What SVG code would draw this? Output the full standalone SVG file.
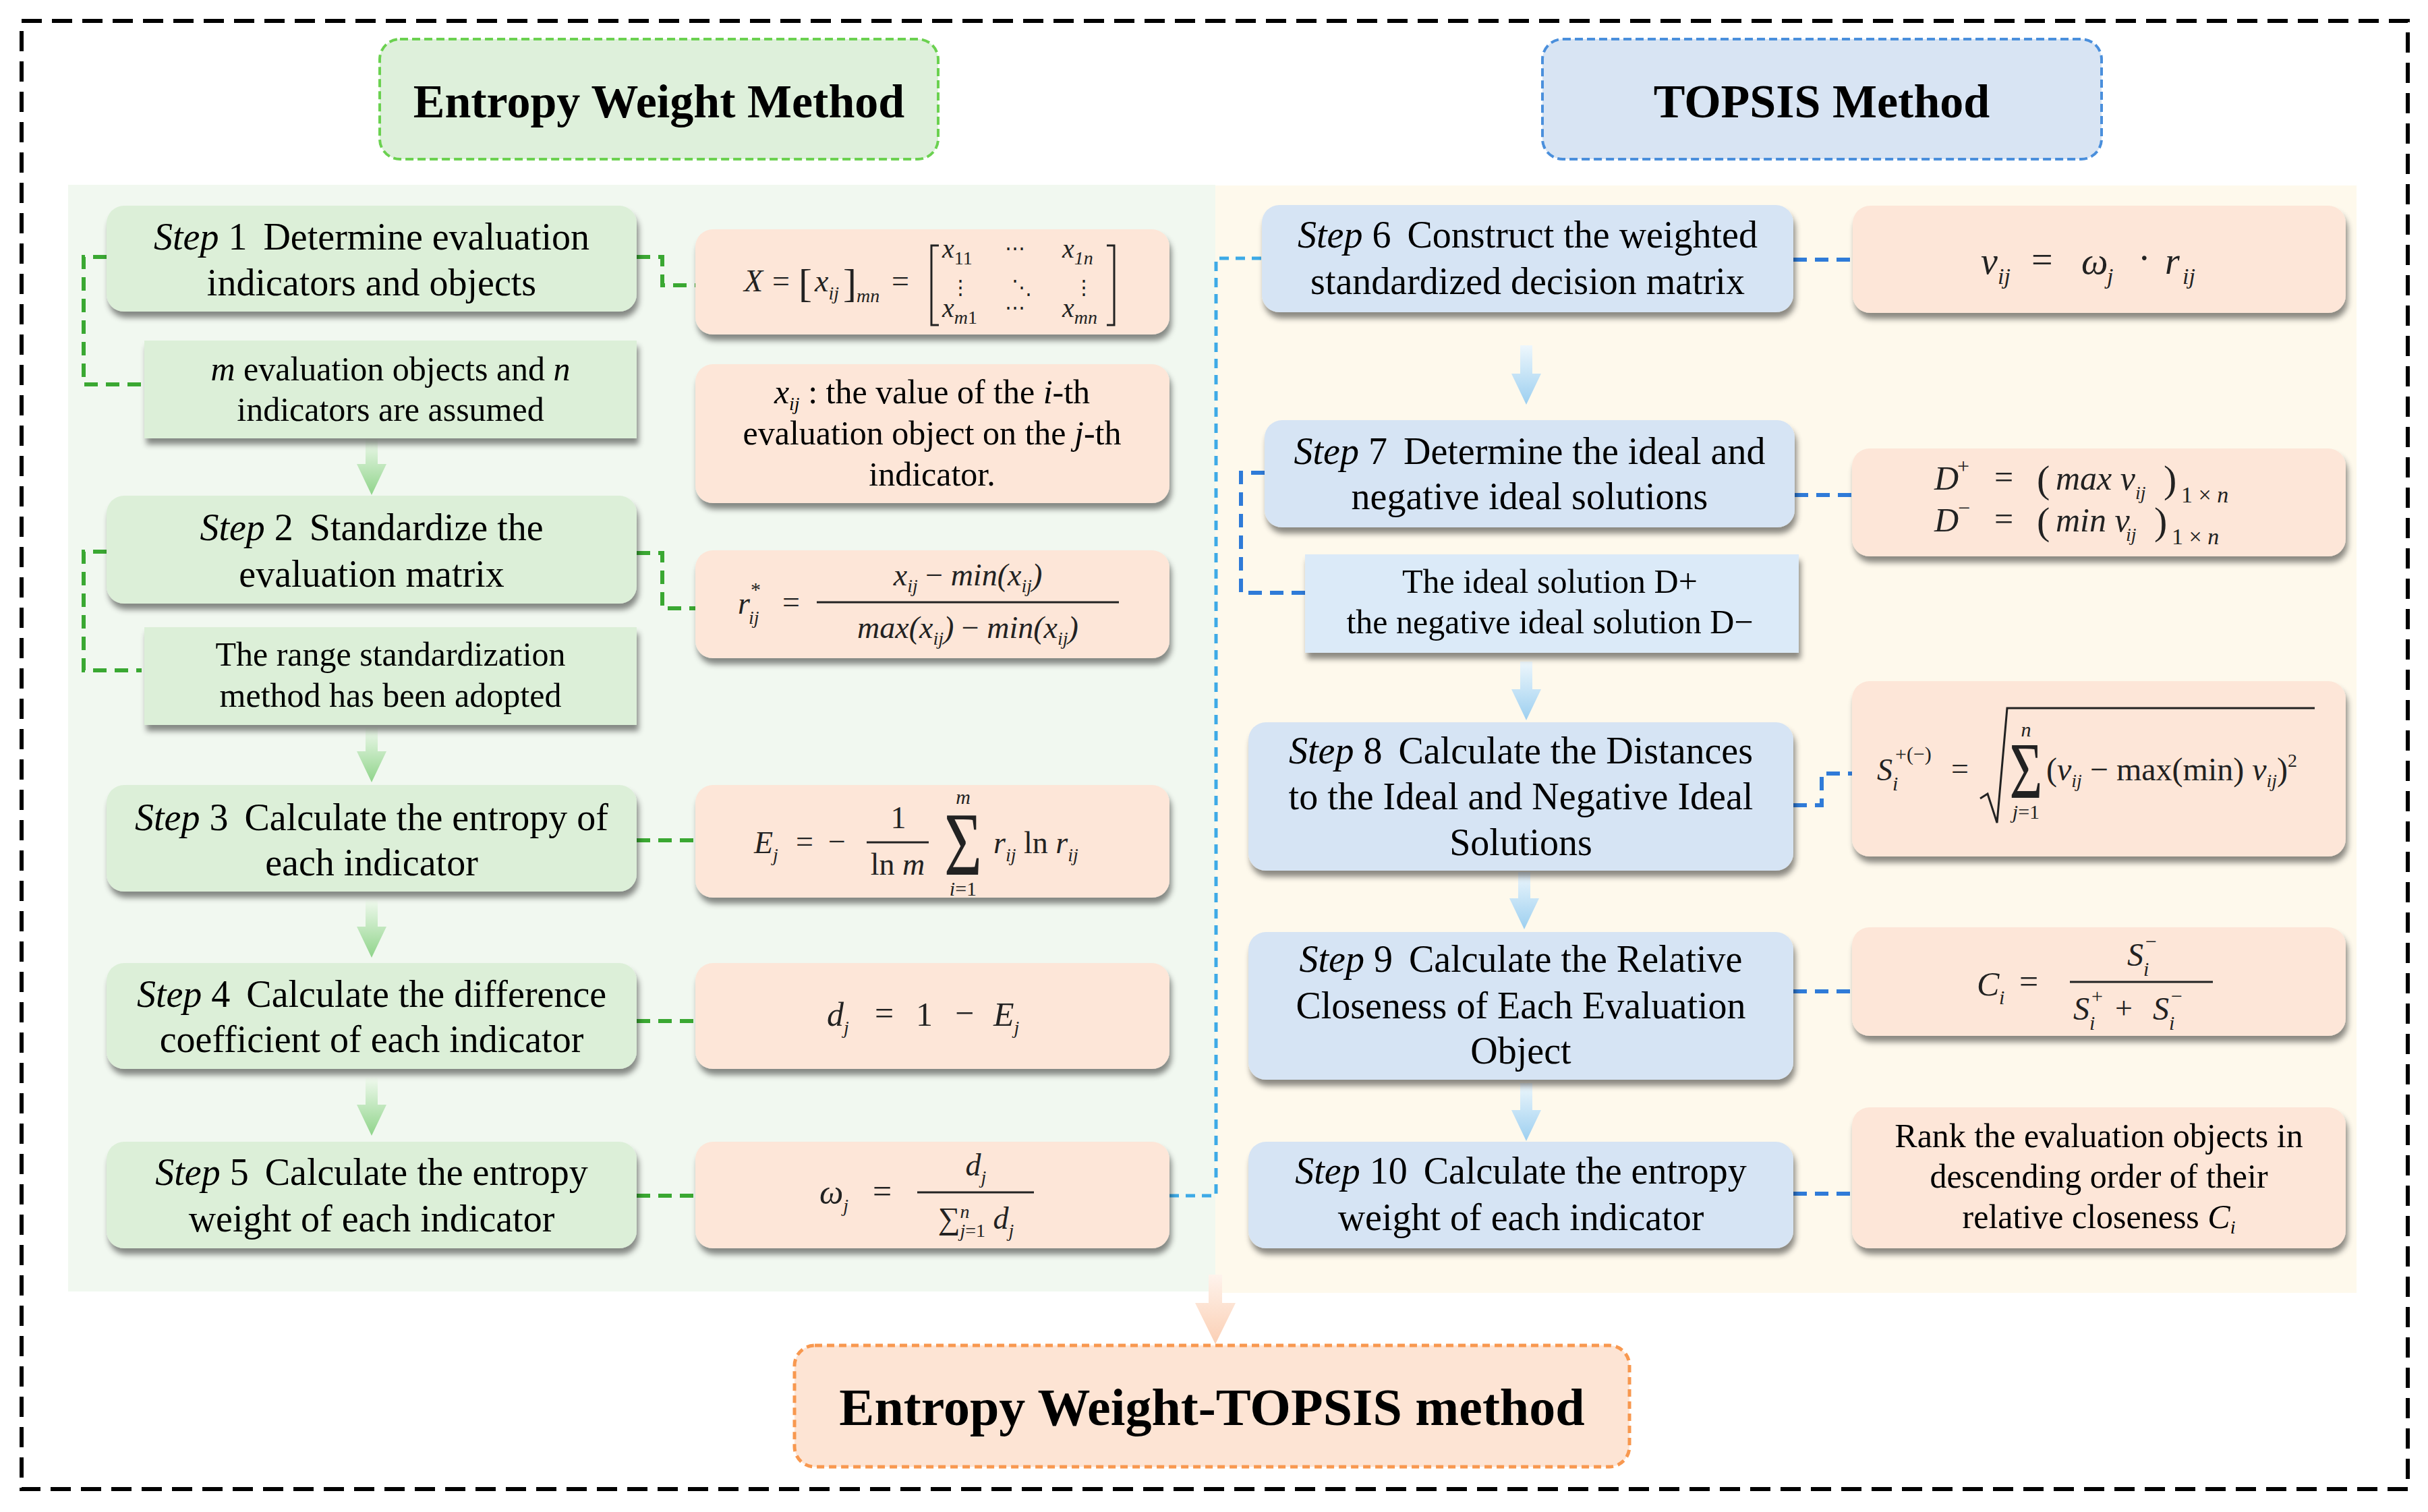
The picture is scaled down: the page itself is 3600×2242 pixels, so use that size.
<svg xmlns="http://www.w3.org/2000/svg" width="3600" height="2242" viewBox="0 0 3600 2242">
<defs>
<style>
.t{font-family:"Liberation Serif","Times New Roman",serif;fill:#000}
.st{font-size:56px;text-anchor:middle}
.nt{font-size:50px;text-anchor:middle}
.ttl{font-size:70px;font-weight:bold;text-anchor:middle}
.it{font-style:italic}
.m{font-family:"Liberation Serif","Times New Roman",serif;font-style:italic;font-size:46px;fill:#222}
.u{font-style:normal}
.s{font-size:28px}
.dots{font-family:"DejaVu Serif",serif;font-style:normal;font-size:30px;fill:#222;text-anchor:middle}
.gbox{fill:#dcefd8;filter:url(#sh)}
.bbox{fill:#d6e4f4;filter:url(#sh)}
.bsub{fill:#dbeaf8;filter:url(#sh)}
.pbox{fill:#fde6d8;filter:url(#sh)}
.cg{fill:none;stroke:#3aa832;stroke-width:6;stroke-dasharray:20 12}
.cb{fill:none;stroke:#2f7bd8;stroke-width:6;stroke-dasharray:20 12}
.cl{fill:none;stroke:#3daae6;stroke-width:5;stroke-dasharray:14 10}
.ln{stroke:#222;stroke-width:3;fill:none}
</style>
<filter id="sh" x="-5%" y="-10%" width="110%" height="130%">
<feDropShadow dx="3" dy="9" stdDeviation="4" flood-color="#000" flood-opacity="0.45"/>
</filter>
<linearGradient id="gg" x1="0" y1="0" x2="0" y2="1">
<stop offset="0" stop-color="#f0f9ee"/><stop offset="1" stop-color="#8fd48a"/>
</linearGradient>
<linearGradient id="bg" x1="0" y1="0" x2="0" y2="1">
<stop offset="0" stop-color="#eef7fc"/><stop offset="1" stop-color="#9ccff0"/>
</linearGradient>
<linearGradient id="pg" x1="0" y1="0" x2="0" y2="1">
<stop offset="0" stop-color="#fef3ec"/><stop offset="1" stop-color="#fbcfb4"/>
</linearGradient>
</defs>
<rect width="3600" height="2242" fill="#fff"/>
<rect x="32" y="31" width="3538" height="2177" fill="none" stroke="#000" stroke-width="6" stroke-dasharray="30 15"/>
<rect x="101" y="274" width="1701" height="1641" fill="#f1f8f0"/>
<rect x="1802" y="275" width="1692" height="1642" fill="#fef9ec"/>

<g id="title-ewm">
<rect x="563" y="58" width="828" height="178" rx="30" fill="#def0db" stroke="#6bd150" stroke-width="4" stroke-dasharray="12 6"/>
<text class="t ttl" x="977" y="174">Entropy Weight Method</text>
</g>
<g id="title-topsis">
<rect x="2287" y="58" width="829" height="178" rx="30" fill="#d8e4f3" stroke="#4a8fdc" stroke-width="4" stroke-dasharray="12 6"/>
<text class="t ttl" x="2701" y="174">TOPSIS Method</text>
</g>
<g id="title-final">
<rect x="1178" y="1995" width="1238" height="180" rx="30" fill="#fde4d4" stroke="#f8984f" stroke-width="5" stroke-dasharray="11 7"/>
<text class="t ttl" x="1797" y="2113" style="font-size:78px">Entropy Weight-TOPSIS method</text>
</g>

<g id="connectors">
<path class="cg" d="M158,381 H124 V570 H210"/>
<path class="cg" d="M944,381 H982 V423 H1031"/>
<path class="cg" d="M158,818 H124 V994 H210"/>
<path class="cg" d="M944,820 H982 V902 H1031"/>
<path class="cg" d="M944,1246 H1031"/>
<path class="cg" d="M944,1514 H1031"/>
<path class="cg" d="M944,1773 H1031"/>
<path class="cl" d="M1734,1773 H1803 V383 H1871"/>
<path class="cb" d="M2659,385 H2747"/>
<path class="cb" d="M1875,701 H1840 V879 H1935"/>
<path class="cb" d="M2661,734 H2746"/>
<path class="cb" d="M2659,1194 H2701 V1147 H2746"/>
<path class="cb" d="M2659,1470 H2746"/>
<path class="cb" d="M2659,1770 H2746"/>
<polygon fill="url(#gg)" points="542,650 560,650 560,688 573,688 551,734 529,688 542,688"/>
<polygon fill="url(#gg)" points="542,1078 560,1078 560,1114 573,1114 551,1160 529,1114 542,1114"/>
<polygon fill="url(#gg)" points="542,1334 560,1334 560,1374 573,1374 551,1420 529,1374 542,1374"/>
<polygon fill="url(#gg)" points="542,1598 560,1598 560,1638 573,1638 551,1684 529,1638 542,1638"/>
<polygon fill="url(#bg)" points="2254,512 2272,512 2272,554 2285,554 2263,600 2241,554 2254,554"/>
<polygon fill="url(#bg)" points="2254,981 2272,981 2272,1022 2285,1022 2263,1068 2241,1022 2254,1022"/>
<polygon fill="url(#bg)" points="2251,1293 2269,1293 2269,1332 2282,1332 2260,1378 2238,1332 2251,1332"/>
<polygon fill="url(#bg)" points="2254,1606 2272,1606 2272,1646 2285,1646 2263,1692 2241,1646 2254,1646"/>
<polygon fill="url(#pg)" points="1792,1890 1812,1890 1812,1932 1832,1932 1802,1993 1772,1932 1792,1932"/>
</g>

<g id="step1">
<rect class="gbox" x="158" y="305" width="786" height="157" rx="26"/>
<text class="t st" x="551" y="370"><tspan class="it">Step</tspan> 1 <tspan dx="10">Determine evaluation</tspan></text>
<text class="t st" x="551" y="438">indicators and objects</text>
</g>
<g id="note1">
<rect class="gbox" x="214" y="505" width="730" height="145"/>
<text class="t nt" x="579" y="564"><tspan class="it">m</tspan> evaluation objects and <tspan class="it">n</tspan></text>
<text class="t nt" x="579" y="624">indicators are assumed</text>
</g>
<g id="step2">
<rect class="gbox" x="158" y="735" width="786" height="160" rx="26"/>
<text class="t st" x="551" y="801"><tspan class="it">Step</tspan> 2 <tspan dx="10">Standardize the</tspan></text>
<text class="t st" x="551" y="870">evaluation matrix</text>
</g>
<g id="note2">
<rect class="gbox" x="214" y="930" width="730" height="145"/>
<text class="t nt" x="579" y="987">The range standardization</text>
<text class="t nt" x="579" y="1048">method has been adopted</text>
</g>
<g id="step3">
<rect class="gbox" x="158" y="1164" width="786" height="158" rx="26"/>
<text class="t st" x="551" y="1231"><tspan class="it">Step</tspan> 3 <tspan dx="10">Calculate the entropy of</tspan></text>
<text class="t st" x="551" y="1298">each indicator</text>
</g>
<g id="step4">
<rect class="gbox" x="158" y="1428" width="786" height="157" rx="26"/>
<text class="t st" x="551" y="1493"><tspan class="it">Step</tspan> 4 <tspan dx="10">Calculate the difference</tspan></text>
<text class="t st" x="551" y="1560">coefficient of each indicator</text>
</g>
<g id="step5">
<rect class="gbox" x="158" y="1693" width="786" height="158" rx="26"/>
<text class="t st" x="551" y="1757"><tspan class="it">Step</tspan> 5 <tspan dx="10">Calculate the entropy</tspan></text>
<text class="t st" x="551" y="1826">weight of each indicator</text>
</g>

<g id="formula1">
<rect class="pbox" x="1031" y="340" width="703" height="156" rx="26"/>
<text class="m" x="1103" y="432">X</text>
<text class="m u" x="1145" y="432">=</text>
<text class="m u" x="1184" y="440" style="font-size:60px">[</text>
<text class="m" x="1208" y="432">x<tspan class="s" dy="12">ij</tspan></text>
<text class="m u" x="1250" y="440" style="font-size:60px">]</text>
<text class="m s" x="1270" y="448">mn</text>
<text class="m u" x="1322" y="432">=</text>
<path class="ln" d="M1392,364 H1381 V482 H1392 M1641,364 H1652 V482 H1641"/>
<text class="m" x="1397" y="382" style="font-size:40px">x<tspan class="u s" dy="10">11</tspan></text>
<text class="dots" x="1505" y="378">⋯</text>
<text class="m" x="1575" y="382" style="font-size:40px">x<tspan class="s" dy="10">1<tspan class="it">n</tspan></tspan></text>
<text class="dots" x="1424" y="436">⋮</text>
<text class="dots" x="1515" y="436">⋱</text>
<text class="dots" x="1607" y="436">⋮</text>
<text class="m" x="1397" y="470" style="font-size:40px">x<tspan class="s" dy="10">m<tspan class="u">1</tspan></tspan></text>
<text class="dots" x="1505" y="466">⋯</text>
<text class="m" x="1575" y="470" style="font-size:40px">x<tspan class="s" dy="10">mn</tspan></text>
</g>
<g id="formula2">
<rect class="pbox" x="1031" y="540" width="703" height="206" rx="26"/>
<text class="t nt" x="1382" y="598"><tspan class="it">x</tspan><tspan class="it" font-size="28" dy="10">ij</tspan><tspan dy="-10"> : the value of the </tspan><tspan class="it">i</tspan>-th</text>
<text class="t nt" x="1382" y="659">evaluation object on the <tspan class="it">j</tspan>-th</text>
<text class="t nt" x="1382" y="720">indicator.</text>
</g>
<g id="formula3">
<rect class="pbox" x="1031" y="816" width="703" height="160" rx="26"/>
<text class="m" x="1094" y="910">r</text>
<text class="m u" x="1113" y="884" style="font-size:30px">*</text>
<text class="m s" x="1110" y="925">ij</text>
<text class="m u" x="1160" y="908">=</text>
<line class="ln" x1="1211" y1="893" x2="1659" y2="893"/>
<text class="m" x="1435" y="868" text-anchor="middle">x<tspan class="s" dy="10">ij</tspan><tspan class="u" dy="-10"> − </tspan>min(x<tspan class="s" dy="10">ij</tspan><tspan dy="-10">)</tspan></text>
<text class="m" x="1435" y="946" text-anchor="middle">max(x<tspan class="s" dy="10">ij</tspan><tspan dy="-10">)</tspan><tspan class="u"> − </tspan>min(x<tspan class="s" dy="10">ij</tspan><tspan dy="-10">)</tspan></text>
</g>
<g id="formula4">
<rect class="pbox" x="1031" y="1164" width="703" height="167" rx="26"/>
<text class="m" x="1118" y="1265">E<tspan class="s" dy="12">j</tspan></text>
<text class="m u" x="1180" y="1263">=</text>
<text class="m u" x="1228" y="1263">−</text>
<text class="m u" x="1332" y="1228" text-anchor="middle">1</text>
<line class="ln" x1="1285" y1="1249" x2="1377" y2="1249"/>
<text class="m u" x="1331" y="1297" text-anchor="middle">ln <tspan class="it">m</tspan></text>
<text class="m u" transform="translate(1428,1297) scale(1,1.4)" text-anchor="middle" style="font-size:96px">Σ</text>
<text class="m" x="1428" y="1192" text-anchor="middle" style="font-size:30px">m</text>
<text class="m" x="1428" y="1328" text-anchor="middle" style="font-size:30px">i<tspan class="u">=1</tspan></text>
<text class="m" x="1473" y="1265">r<tspan class="s" dy="12">ij</tspan><tspan class="u" dy="-12"> ln </tspan>r<tspan class="s" dy="12">ij</tspan></text>
</g>
<g id="formula5">
<rect class="pbox" x="1031" y="1428" width="703" height="157" rx="26"/>
<text class="m" x="1226" y="1521" style="font-size:50px">d<tspan class="s" dy="12">j</tspan></text>
<text class="m u" x="1297" y="1519" style="font-size:50px">=</text>
<text class="m u" x="1358" y="1521" style="font-size:50px">1</text>
<text class="m u" x="1416" y="1519" style="font-size:50px">−</text>
<text class="m" x="1473" y="1521" style="font-size:50px">E<tspan class="s" dy="12">j</tspan></text>
</g>
<g id="formula6">
<rect class="pbox" x="1031" y="1693" width="703" height="158" rx="26"/>
<text class="m" x="1215" y="1785" style="font-size:50px">ω<tspan class="s" dy="12">j</tspan></text>
<text class="m u" x="1294" y="1783" style="font-size:50px">=</text>
<line class="ln" x1="1360" y1="1768" x2="1533" y2="1768"/>
<text class="m" x="1447" y="1743" text-anchor="middle">d<tspan class="s" dy="12">j</tspan></text>
<text class="m" x="1447" y="1822" text-anchor="middle"><tspan class="u">∑</tspan><tspan class="s" dy="-16">n</tspan><tspan class="s" dx="-14" dy="28">j<tspan class="u">=1</tspan></tspan><tspan dy="-12"> d</tspan><tspan class="s" dy="12">j</tspan></text>
</g>

<g id="step6">
<rect class="bbox" x="1871" y="304" width="788" height="159" rx="26"/>
<text class="t st" x="2265" y="367"><tspan class="it">Step</tspan> 6 <tspan dx="10">Construct the weighted</tspan></text>
<text class="t st" x="2265" y="436">standardized decision matrix</text>
</g>
<g id="step7">
<rect class="bbox" x="1875" y="623" width="786" height="159" rx="26"/>
<text class="t st" x="2268" y="688"><tspan class="it">Step</tspan> 7 <tspan dx="10">Determine the ideal and</tspan></text>
<text class="t st" x="2268" y="755">negative ideal solutions</text>
</g>
<g id="note7">
<rect class="bsub" x="1935" y="822" width="732" height="146"/>
<text class="t nt" x="2298" y="879">The ideal solution D+</text>
<text class="t nt" x="2298" y="939">the negative ideal solution D−</text>
</g>
<g id="step8">
<rect class="bbox" x="1851" y="1071" width="808" height="220" rx="26"/>
<text class="t st" x="2255" y="1132"><tspan class="it">Step</tspan> 8 <tspan dx="10">Calculate the Distances</tspan></text>
<text class="t st" x="2255" y="1200">to the Ideal and Negative Ideal</text>
<text class="t st" x="2255" y="1268">Solutions</text>
</g>
<g id="step9">
<rect class="bbox" x="1851" y="1382" width="808" height="219" rx="26"/>
<text class="t st" x="2255" y="1441"><tspan class="it">Step</tspan> 9 <tspan dx="10">Calculate the Relative</tspan></text>
<text class="t st" x="2255" y="1510">Closeness of Each Evaluation</text>
<text class="t st" x="2255" y="1577">Object</text>
</g>
<g id="step10">
<rect class="bbox" x="1851" y="1693" width="808" height="158" rx="26"/>
<text class="t st" x="2255" y="1755"><tspan class="it">Step</tspan> 10 <tspan dx="10">Calculate the entropy</tspan></text>
<text class="t st" x="2255" y="1824">weight of each indicator</text>
</g>

<g id="formula7">
<rect class="pbox" x="2747" y="305" width="731" height="159" rx="26"/>
<text class="m" x="2937" y="406" style="font-size:56px">v</text>
<text class="m" x="2962" y="421" style="font-size:34px">ij</text>
<text class="m u" x="3012" y="404" style="font-size:56px">=</text>
<text class="m" x="3086" y="406" style="font-size:56px">ω</text>
<text class="m" x="3124" y="421" style="font-size:34px">j</text>
<text class="m u" x="3170" y="402" style="font-size:56px">·</text>
<text class="m" x="3210" y="406" style="font-size:56px">r</text>
<text class="m" x="3236" y="421" style="font-size:34px">ij</text>
</g>
<g id="formula8">
<rect class="pbox" x="2746" y="665" width="732" height="160" rx="26"/>
<text class="m" x="2868" y="726" style="font-size:50px">D</text>
<text class="m u" x="2902" y="702" style="font-size:32px">+</text>
<text class="m u" x="2957" y="724" style="font-size:50px">=</text>
<text class="m u" x="3020" y="730" style="font-size:58px">(</text>
<text class="m" x="3048" y="726" style="font-size:50px">max v</text>
<text class="m s" x="3166" y="740">ij</text>
<text class="m u" x="3208" y="730" style="font-size:58px">)</text>
<text class="m u" x="3234" y="745" style="font-size:34px">1 × <tspan class="it">n</tspan></text>
<text class="m" x="2868" y="788" style="font-size:50px">D</text>
<text class="m u" x="2903" y="764" style="font-size:32px">−</text>
<text class="m u" x="2957" y="786" style="font-size:50px">=</text>
<text class="m u" x="3020" y="792" style="font-size:58px">(</text>
<text class="m" x="3048" y="788" style="font-size:50px">min v</text>
<text class="m s" x="3152" y="802">ij</text>
<text class="m u" x="3194" y="792" style="font-size:58px">)</text>
<text class="m u" x="3220" y="807" style="font-size:34px">1 × <tspan class="it">n</tspan></text>
</g>
<g id="formula9">
<rect class="pbox" x="2746" y="1010" width="732" height="260" rx="26"/>
<text class="m" x="2783" y="1157">S</text>
<text class="m u" x="2810" y="1128" style="font-size:30px">+(−)</text>
<text class="m" x="2806" y="1172" style="font-size:30px">i</text>
<text class="m u" x="2893" y="1155">=</text>
<path class="ln" d="M2936,1184 L2947,1177 L2961,1220 L2976,1050 H3432"/>
<text class="m u" transform="translate(3004,1183) scale(1,1.4)" text-anchor="middle" style="font-size:84px">Σ</text>
<text class="m" x="3004" y="1092" text-anchor="middle" style="font-size:30px">n</text>
<text class="m" x="3004" y="1214" text-anchor="middle" style="font-size:30px">j<tspan class="u">=1</tspan></text>
<text class="m" x="3034" y="1157" style="font-size:48px"><tspan class="u">(</tspan>v<tspan class="s" dy="10">ij</tspan><tspan class="u" dy="-10"> − max(min) </tspan>v<tspan class="s" dy="10">ij</tspan><tspan class="u" dy="-10">)</tspan><tspan class="u s" dy="-20">2</tspan></text>
</g>
<g id="formula10">
<rect class="pbox" x="2746" y="1375" width="732" height="161" rx="26"/>
<text class="m" x="2931" y="1476" style="font-size:50px">C</text>
<text class="m" x="2964" y="1489" style="font-size:30px">i</text>
<text class="m u" x="2994" y="1472" style="font-size:50px">=</text>
<line class="ln" x1="3069" y1="1456" x2="3281" y2="1456"/>
<text class="m" x="3154" y="1432" style="font-size:48px">S</text>
<text class="m u" x="3181" y="1406" style="font-size:30px">−</text>
<text class="m" x="3178" y="1447" style="font-size:30px">i</text>
<text class="m" x="3074" y="1512" style="font-size:48px">S</text>
<text class="m u" x="3101" y="1487" style="font-size:30px">+</text>
<text class="m" x="3098" y="1527" style="font-size:30px">i</text>
<text class="m u" x="3136" y="1510" style="font-size:46px">+</text>
<text class="m" x="3192" y="1512" style="font-size:48px">S</text>
<text class="m u" x="3219" y="1487" style="font-size:30px">−</text>
<text class="m" x="3216" y="1527" style="font-size:30px">i</text>
</g>
<g id="formula11">
<rect class="pbox" x="2746" y="1642" width="732" height="209" rx="26"/>
<text class="t nt" x="3112" y="1701">Rank the evaluation objects in</text>
<text class="t nt" x="3112" y="1761">descending order of their</text>
<text class="t nt" x="3112" y="1821">relative closeness <tspan class="it">C</tspan><tspan class="it" font-size="28" dy="8">i</tspan></text>
</g>
</svg>
